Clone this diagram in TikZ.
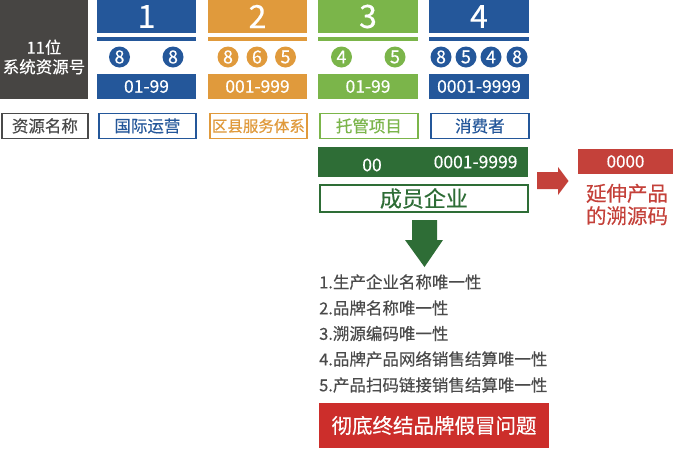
\documentclass[tikz,border=0pt]{standalone}
\usepackage{fontspec}
\setmainfont{Noto Sans CJK SC}[FakeBold=0.4]
\definecolor{cblue}{HTML}{24579A}
\definecolor{corange}{HTML}{E09A3C}
\definecolor{cgreen}{HTML}{7BB54A}
\definecolor{cgrey}{HTML}{474543}
\definecolor{cdkgreen}{HTML}{2E6D36}
\definecolor{cred}{HTML}{C4413A}
\definecolor{cbred}{HTML}{CC2E2B}
\definecolor{ctext}{HTML}{4A4A4A}
\newcommand{\fs}[1]{\fontsize{#1}{#1}\selectfont}
\tikzset{
  blk/.style={inner sep=0pt, outer sep=0pt, anchor=north west},
  bignum/.style={text=white, font=\fs{32}},
  circ/.style={circle, inner sep=0pt, minimum size=21pt, text=white, font=\fs{18}},
  rng/.style={text=white, font=\fs{17.5}},
  lbl/.style={draw=#1, line width=1.8pt, fill=white, text=#1, inner sep=0pt, anchor=north west, font=\fs{16.5}},
  listline/.style={anchor=west, text=ctext, font=\fs{16.5}, inner sep=0pt},
}
\begin{document}
\begin{tikzpicture}[x=1pt,y=-1pt]
\useasboundingbox (0,0) rectangle (675,448);
% grey header
\node[blk, fill=cgrey, minimum width=88pt, minimum height=99pt] (g) at (0,0) {};
\node[text=white, font=\fs{16.5}, align=center, inner sep=0pt] (gt) at (44,57) {11位\\[3pt]系统资源号};
\node[lbl=ctext, minimum width=86pt, minimum height=25pt] (l0) at (1,112.5) {资源名称};
% column 1
\node[blk, fill=cblue, minimum width=99pt, minimum height=33pt] (t1) at (97,0) {};
\node[bignum] (n1) at (t1.center) {1};
\node[blk, fill=cblue, minimum width=99pt, minimum height=4pt] (b1) at (97,37) {};
\node[circ, fill=cblue] (c1a) at (119.5,57) {8};
\node[circ, fill=cblue] (c1b) at (173,57) {8};
\node[blk, fill=cblue, minimum width=99pt, minimum height=25pt] (r1) at (97,74) {};
\node[rng] (rt1) at (r1.center) {01-99};
\node[lbl=cblue, minimum width=97pt, minimum height=25pt] (l1) at (98,112.5) {国际运营};
% column 2
\node[blk, fill=corange, minimum width=99pt, minimum height=33pt] (t2) at (208,0) {};
\node[bignum] (n2) at (t2.center) {2};
\node[blk, fill=corange, minimum width=99pt, minimum height=4pt] (b2) at (208,37) {};
\node[circ, fill=corange] (c2a) at (228,57) {8};
\node[circ, fill=corange] (c2b) at (257,57) {6};
\node[circ, fill=corange] (c2c) at (285.5,57) {5};
\node[blk, fill=corange, minimum width=99pt, minimum height=25pt] (r2) at (208,74) {};
\node[rng] (rt2) at (r2.center) {001-999};
\node[lbl=corange, minimum width=97pt, minimum height=25pt, font=\fs{15.5}] (l2) at (209,112.5) {区县服务体系};
% column 3
\node[blk, fill=cgreen, minimum width=100pt, minimum height=33pt] (t3) at (318,0) {};
\node[bignum] (n3) at (t3.center) {3};
\node[blk, fill=cgreen, minimum width=100pt, minimum height=4pt] (b3) at (318,37) {};
\node[circ, fill=cgreen] (c3a) at (341.5,57) {4};
\node[circ, fill=cgreen] (c3b) at (395,57) {5};
\node[blk, fill=cgreen, minimum width=100pt, minimum height=25pt] (r3) at (318,74) {};
\node[rng] (rt3) at (r3.center) {01-99};
\node[lbl=cgreen, minimum width=98pt, minimum height=25pt] (l3) at (319,112.5) {托管项目};
% column 4
\node[blk, fill=cblue, minimum width=100pt, minimum height=33pt] (t4) at (429,0) {};
\node[bignum] (n4) at (t4.center) {4};
\node[blk, fill=cblue, minimum width=100pt, minimum height=4pt] (b4) at (429,37) {};
\node[circ, fill=cblue] (c4a) at (441,57) {8};
\node[circ, fill=cblue] (c4b) at (466,57) {5};
\node[circ, fill=cblue] (c4c) at (491,57) {4};
\node[circ, fill=cblue] (c4d) at (517,57) {8};
\node[blk, fill=cblue, minimum width=100pt, minimum height=25pt] (r4) at (429,74) {};
\node[rng] (rt4) at (r4.center) {0001-9999};
\node[lbl=cblue, minimum width=98pt, minimum height=25pt] (l4) at (430,112.5) {消费者};
% member enterprise
\node[blk, fill=cdkgreen, minimum width=210pt, minimum height=30pt] (m) at (318,147) {};
\node[rng] (m00) at (372,165) {00};
\node[rng, anchor=east] (mr) at (521,162) {0001-9999};
\node[lbl=cdkgreen, minimum width=208pt, minimum height=27pt, font=\fs{22}] (me) at (319,184) {成员企业};
% red arrow and extension
\fill[cred] (537,172) -- (558,172) -- (558,167) -- (568.5,181) -- (558,195) -- (558,189) -- (537,189) -- cycle;
\node[blk, fill=cred, minimum width=95pt, minimum height=25pt] (x) at (578,149) {};
\node[rng, font=\fs{17}] (xt) at (x.center) {0000};
\node[text=cred, font=\fs{20.5}, align=center, inner sep=0pt] (xl) at (627,204.5) {延伸产品\\[2pt]的溯源码};
% green down arrow
\fill[cdkgreen] (412,220) -- (437,220) -- (437,240) -- (443,240) -- (424.5,267) -- (405,240) -- (412,240) -- cycle;
% list
\node[listline] (li1) at (319,282) {1.生产企业名称唯一性};
\node[listline] (li2) at (319,308) {2.品牌名称唯一性};
\node[listline] (li3) at (319,333.5) {3.溯源编码唯一性};
\node[listline] (li4) at (319,359) {4.品牌产品网络销售结算唯一性};
\node[listline] (li5) at (319,385) {5.产品扫码链接销售结算唯一性};
% bottom red
\node[blk, fill=cbred, minimum width=230pt, minimum height=45pt] (f) at (319,403) {};
\node[text=white, font=\fs{20.5}] (ft) at (f.center) {彻底终结品牌假冒问题};
\end{tikzpicture}
\end{document}
